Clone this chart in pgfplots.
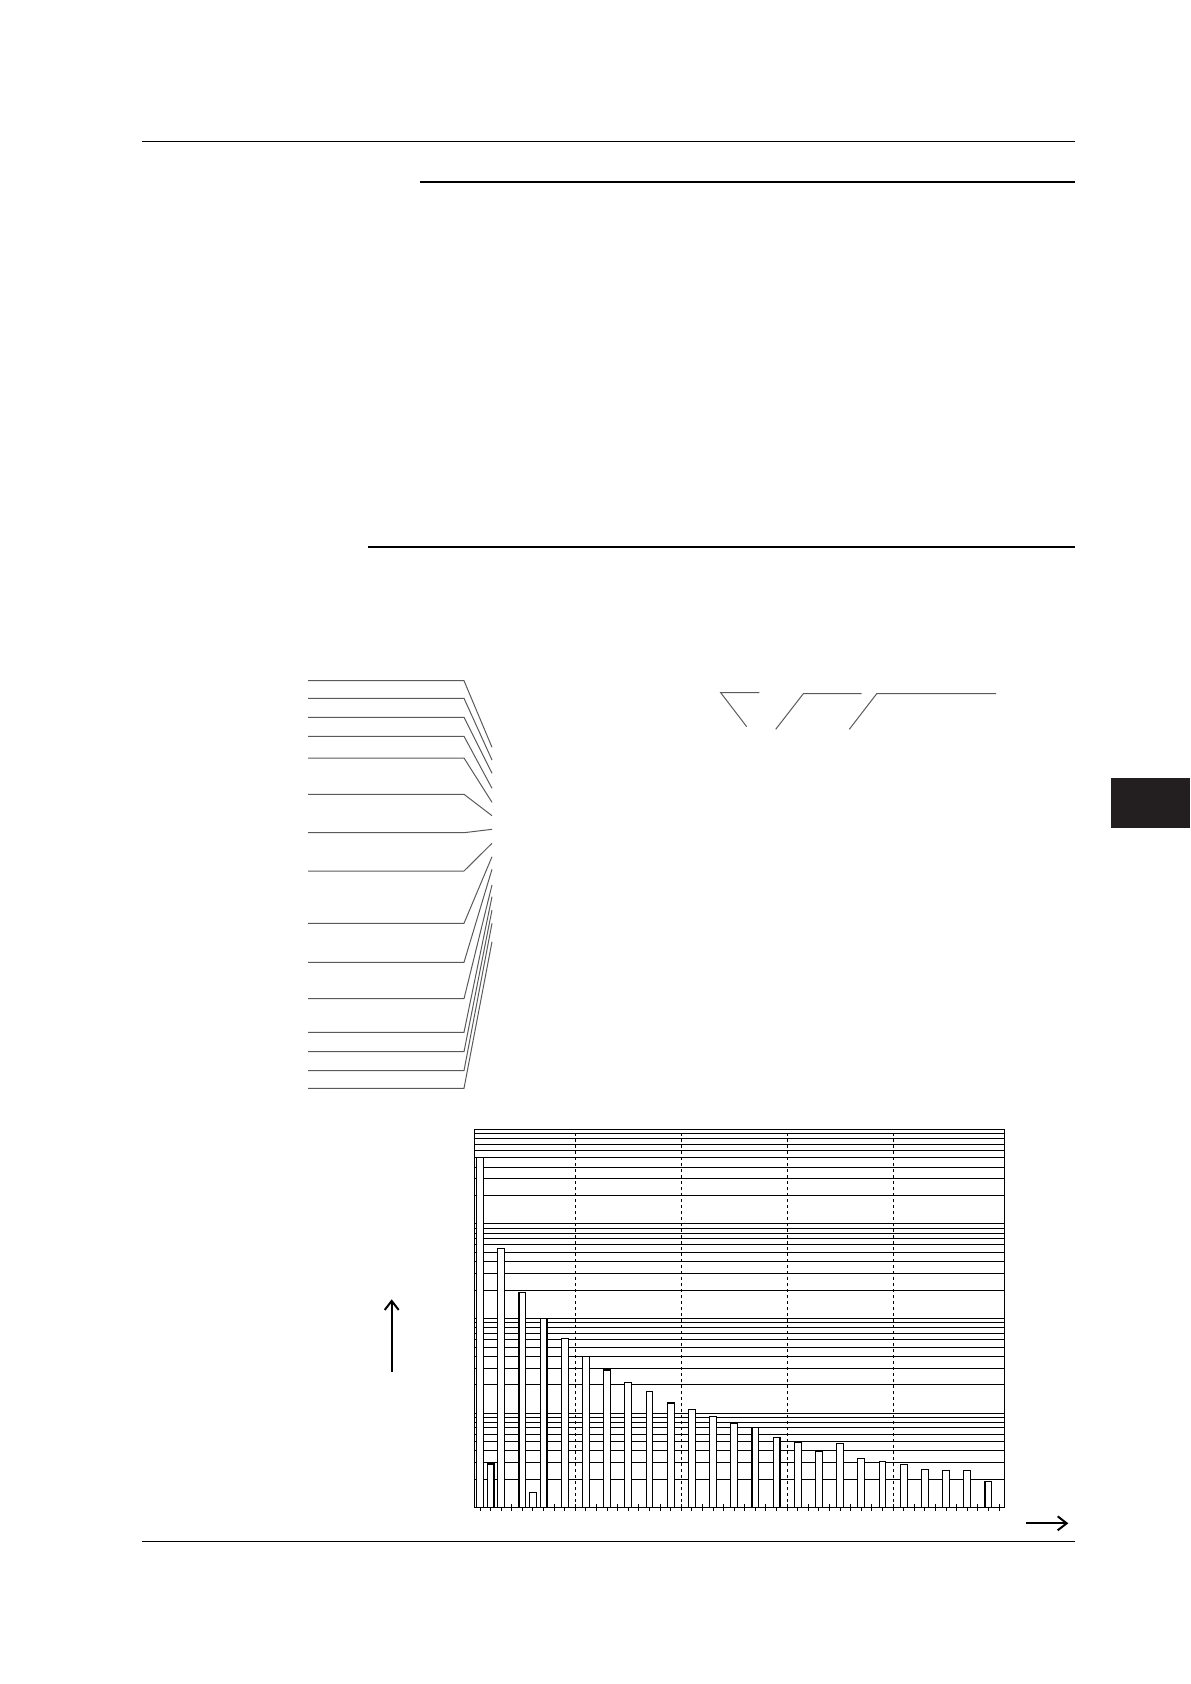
\documentclass[border=0pt]{standalone}
\usepackage{pgfplots}
\pgfplotsset{compat=1.18}
\usetikzlibrary{arrows.meta}
\definecolor{tabblack}{RGB}{35,31,32}
\definecolor{leader}{RGB}{90,90,90}
\begin{document}
\begin{tikzpicture}
\begin{scope}[x=0.5pt,y=-0.5pt]
\useasboundingbox (0,0) rectangle (1190,1684);
% page rules
\draw[line width=0.65pt] (142,141.7)--(1075,141.7);
\draw[line width=1.15pt] (420,182)--(1075,182);
\draw[line width=1.15pt] (368.3,546.7)--(1075,546.7);
\draw[line width=0.65pt] (142,1541.3)--(1075,1541.3);
% side tab
\fill[tabblack] (1111,778.3) rectangle (1190,828.3);
% leader lines
\foreach \yh/\ye in {680.7/747.3, 698.3/760, 717.3/773.3, 736.3/788.3, 758/802.3, 794.3/815.7, 832.7/829.3, 871/843.3, 923.3/856.7, 962.3/869.3, 998.7/885, 1032.3/896.7, 1051.7/910, 1070.7/923.3, 1088.3/941.7}
  \draw[leader, line width=0.5pt] (308,\yh)--(464,\yh)--(492,\ye);
% bracket lines
\draw[leader, line width=0.5pt] (759.3,692.7)--(720.7,692.7)--(746.7,726.7);
\draw[leader, line width=0.5pt] (775.7,729.3)--(803.3,693.7)--(861.7,693.7);
\draw[leader, line width=0.5pt] (849.3,729.3)--(876.7,693.7)--(996,693.7);
% arrows
\draw[line width=1pt, -{Straight Barb[length=4.5pt,width=7pt]}] (391.7,1371.7)--(391.7,1299.3);
\draw[line width=1pt, -{Straight Barb[length=4.5pt,width=7pt]}] (1026,1523.3)--(1068.3,1523.3);
\end{scope}
\begin{axis}[
  at={(237.35pt,-753.85pt)}, anchor=south west,
  scale only axis, width=264.8pt, height=189.2pt,
  xmin=0.5, xmax=50.5,
  ymode=log, ymin=0.01, ymax=100, log origin y=infty,
  axis line style={line width=0.6pt},
  xtick={1,...,50}, xticklabels={}, xtick pos=bottom,
  tick align=center, major tick length=3.5pt,
  every x tick/.style={black, line width=0.5pt},
  every y tick/.style={draw=none},
  every minor y tick/.style={draw=none},
  yticklabels={}, yminorticks=true,
  ymajorgrids, yminorgrids,
  major grid style={black, line width=0.45pt},
  minor grid style={black, line width=0.45pt},
  extra x ticks={10,20,30,40}, extra x tick labels={},
  extra x tick style={grid=major, major grid style={black, line width=0.45pt, dash pattern=on 1.5pt off 1.5pt}, tick style={draw=none}},
]
\addplot[ybar, bar width=3.4pt, fill=white, draw=black, line width=0.55pt] coordinates {
(1,50.2) (2,0.029) (3,5.46) (5,1.90) (6,0.0144) (7,1.00) (9,0.62)
(11,0.40) (13,0.286) (15,0.213) (17,0.171) (19,0.128) (21,0.110)
(23,0.093) (25,0.078) (27,0.071) (29,0.0557) (31,0.0493) (33,0.0389)
(35,0.0473) (37,0.0333) (39,0.031) (41,0.0288) (43,0.0255) (45,0.0245)
(47,0.0245) (49,0.019)
};
\end{axis}
\end{tikzpicture}
\end{document}
